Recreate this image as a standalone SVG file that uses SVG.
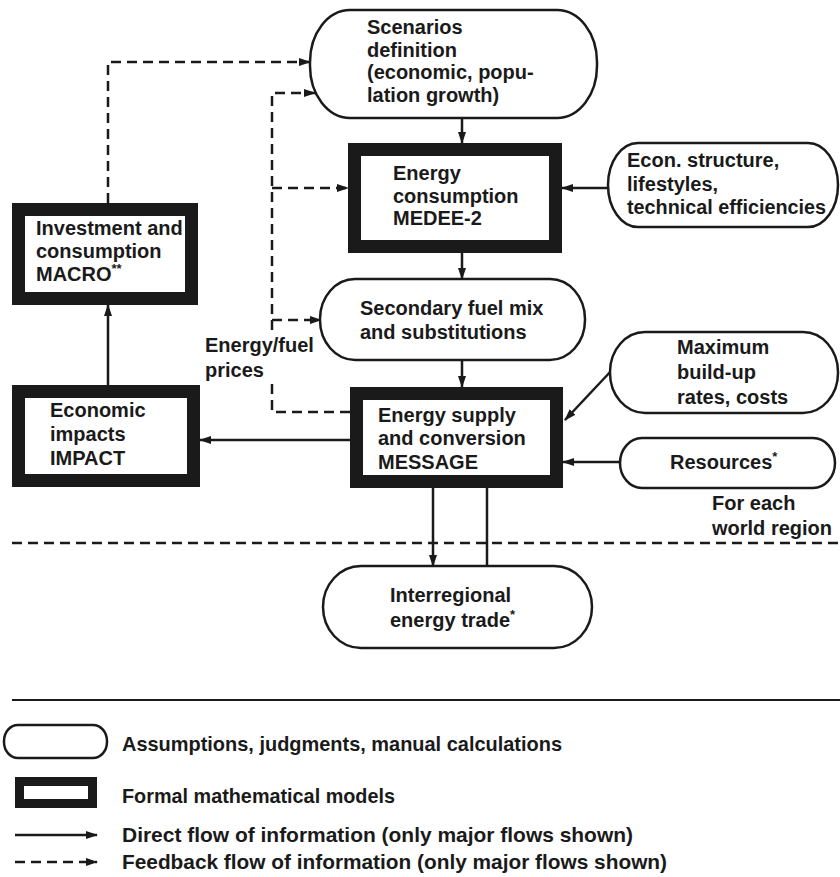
<svg xmlns="http://www.w3.org/2000/svg" width="840" height="877" viewBox="0 0 840 877">
<style>
text{font-family:"Liberation Sans",Arial,sans-serif;font-weight:bold;font-size:20px;fill:#1a1a1a}
.cap{fill:#fff;stroke:#1a1a1a;stroke-width:2.5}
.mod{fill:#fff;stroke:#1a1a1a;stroke-width:13}
.c{fill:none;stroke:#1a1a1a;stroke-width:2.5}
.d{fill:none;stroke:#1a1a1a;stroke-width:2.5;stroke-dasharray:10 6}
.lg{font-size:21px}
</style>
<defs>
<marker id="ah" markerWidth="12" markerHeight="8" refX="11" refY="4" orient="auto" markerUnits="userSpaceOnUse">
<path d="M0,0 L12,4 L0,8 Z" fill="#1a1a1a"/>
</marker>
</defs>
<rect width="840" height="877" fill="#fff"/>

<g id="connectors">
<path class="d" d="M108,203 V62 H310" marker-end="url(#ah)"/>
<path class="d" d="M350,412 H272 V383"/>
<path class="d" d="M272,330 V93 H315" marker-end="url(#ah)"/>
<path class="d" d="M272,188 H348" marker-end="url(#ah)"/>
<path class="d" d="M272,320 H321" marker-end="url(#ah)"/>
<path class="c" d="M462,118 V143" marker-end="url(#ah)"/>
<path class="c" d="M462,253 V279" marker-end="url(#ah)"/>
<path class="c" d="M462,360 V387" marker-end="url(#ah)"/>
<path class="c" d="M608,188 H562" marker-end="url(#ah)"/>
<path class="c" d="M612,370 L565,420" marker-end="url(#ah)"/>
<path class="c" d="M620,462 H563" marker-end="url(#ah)"/>
<path class="c" d="M350,440 H200" marker-end="url(#ah)"/>
<path class="c" d="M108,385 V305" marker-end="url(#ah)"/>
<path class="c" d="M433,488 V566" marker-end="url(#ah)"/>
<path class="c" d="M487,566 V488"/>
<path class="d" d="M12,543 H840"/>
<path fill="none" stroke="#1a1a1a" stroke-width="2" d="M12,700 H840"/>
</g>

<g id="scenarios">
<rect class="cap" x="310" y="10" width="287" height="108" rx="40" ry="52"/>
<text x="367" y="34">Scenarios</text>
<text x="367" y="57">definition</text>
<text x="367" y="79">(economic, popu-</text>
<text x="367" y="102">lation growth)</text>
</g>

<g id="medee">
<rect class="mod" x="354.5" y="149.5" width="201" height="97"/>
<text x="393" y="180">Energy</text>
<text x="393" y="203">consumption</text>
<text x="393" y="225">MEDEE-2</text>
</g>

<g id="econ">
<rect class="cap" x="608" y="143" width="230" height="84" rx="30" ry="42"/>
<text x="627" y="167">Econ. structure,</text>
<text x="627" y="191">lifestyles,</text>
<text x="627" y="214" textLength="199" lengthAdjust="spacingAndGlyphs">technical efficiencies</text>
</g>

<g id="macro">
<rect class="mod" x="18.5" y="209.5" width="173" height="89"/>
<text x="36" y="235">Investment and</text>
<text x="36" y="258">consumption</text>
<text x="36" y="281">MACRO<tspan dy="-8" font-size="13">**</tspan></text>
</g>

<g id="secondary">
<rect class="cap" x="320" y="279" width="265" height="81" rx="35" ry="40"/>
<text x="360" y="315">Secondary fuel mix</text>
<text x="360" y="339">and substitutions</text>
</g>

<g id="prices-label">
<text x="205" y="352">Energy/fuel</text>
<text x="205" y="377">prices</text>
</g>

<g id="maximum">
<rect class="cap" x="610" y="332" width="228" height="81" rx="35" ry="40"/>
<text x="677" y="354">Maximum</text>
<text x="677" y="379">build-up</text>
<text x="677" y="404">rates, costs</text>
</g>

<g id="impact">
<rect class="mod" x="18.5" y="391.5" width="175" height="89"/>
<text x="50" y="417">Economic</text>
<text x="50" y="441">impacts</text>
<text x="50" y="465">IMPACT</text>
</g>

<g id="message">
<rect class="mod" x="356.5" y="393.5" width="200" height="88"/>
<text x="378" y="422">Energy supply</text>
<text x="378" y="445">and conversion</text>
<text x="378" y="469">MESSAGE</text>
</g>

<g id="resources">
<rect class="cap" x="620" y="438" width="215" height="50" rx="22" ry="25"/>
<text x="670" y="469">Resources<tspan dy="-8" font-size="13">*</tspan></text>
</g>

<g id="region-label">
<text x="712" y="510">For each</text>
<text x="712" y="535">world region</text>
</g>

<g id="trade">
<rect class="cap" x="323" y="566" width="269" height="82" rx="38" ry="41"/>
<text x="390" y="602">Interregional</text>
<text x="390" y="627">energy trade<tspan dy="-8" font-size="13">*</tspan></text>
</g>

<g id="legend">
<rect class="cap" x="4" y="725" width="103" height="33" rx="14" ry="16"/>
<text class="lg" x="122" y="751" textLength="440" lengthAdjust="spacingAndGlyphs">Assumptions, judgments, manual calculations</text>
<rect fill="#fff" stroke="#1a1a1a" stroke-width="9" x="19.5" y="781.5" width="73" height="22"/>
<text class="lg" x="122" y="803" textLength="273" lengthAdjust="spacingAndGlyphs">Formal mathematical models</text>
<path class="c" d="M15,835 H97" marker-end="url(#ah)"/>
<text class="lg" x="122" y="842" textLength="511" lengthAdjust="spacingAndGlyphs">Direct flow of information (only major flows shown)</text>
<path class="d" d="M15,862 H97" marker-end="url(#ah)"/>
<text class="lg" x="122" y="869" textLength="545" lengthAdjust="spacingAndGlyphs">Feedback flow of information (only major flows shown)</text>
</g>
</svg>
